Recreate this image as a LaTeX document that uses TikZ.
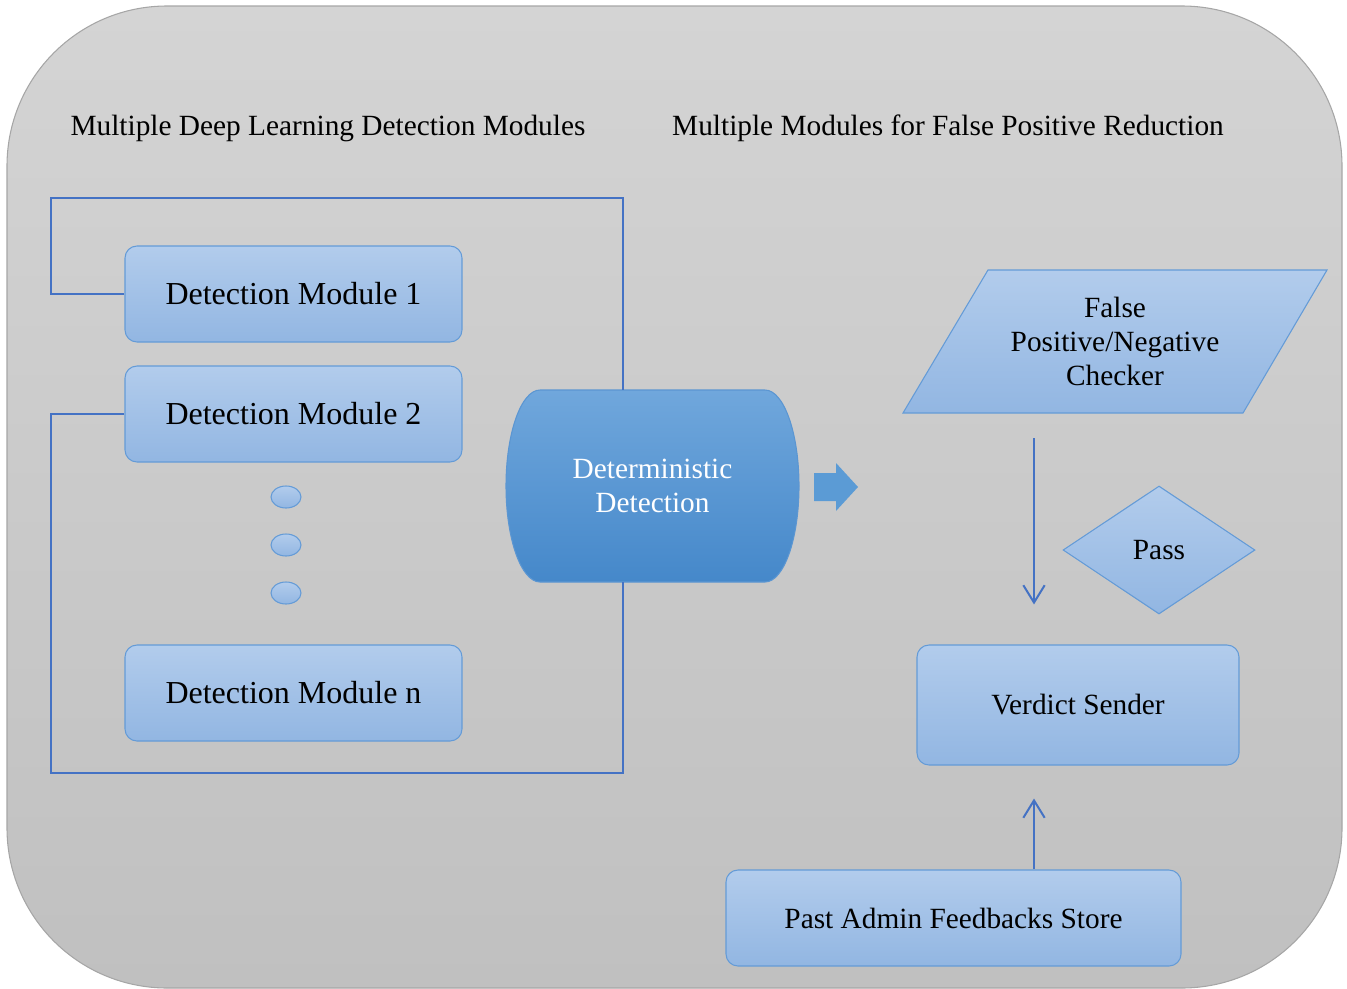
\documentclass[tikz,border=0pt]{standalone}
\usepackage{fontspec}
\setmainfont{Liberation Serif}
\usetikzlibrary{shapes.geometric,arrows.meta}
\definecolor{bgtop}{HTML}{D4D4D4}
\definecolor{bgbot}{HTML}{C0C0C0}
\definecolor{bgline}{HTML}{A6A6A6}
\definecolor{boxtop}{HTML}{B2CCEC}
\definecolor{boxbot}{HTML}{92B6E2}
\definecolor{boxline}{HTML}{649BD7}
\definecolor{cyltop}{HTML}{70A7DC}
\definecolor{cylbot}{HTML}{4588CA}
\definecolor{cylline}{HTML}{5B96D2}
\definecolor{linkblue}{HTML}{4472C4}
\definecolor{blockarrow}{HTML}{5B9BD5}
\tikzset{
  txt/.style={font=\fontsize{22}{25.5}\selectfont, align=center, inner sep=0pt},
  box/.style={txt, draw=boxline, line width=0.8pt, rounded corners=9pt, top color=boxtop, bottom color=boxbot},
  modbox/.style={box, minimum width=252.75pt, minimum height=72pt, font=\fontsize{24}{27}\selectfont},
  shapefill/.style={draw=boxline, line width=0.8pt, top color=boxtop, bottom color=boxbot},
  link/.style={draw=linkblue, line width=1.5pt},
  arr/.style={link, -{Straight Barb[length=13pt,width=16pt]}},
  dot/.style={ellipse, draw=boxline, line width=0.8pt, top color=boxtop, bottom color=boxbot, minimum width=22.5pt, minimum height=16.5pt, inner sep=0pt}
}
\begin{document}
\begin{tikzpicture}[x=0.75pt,y=-0.75pt]
\useasboundingbox (0,0) rectangle (1347,989);
% background panel
\path[draw=bgline, line width=0.8pt, top color=bgtop, bottom color=bgbot, rounded corners=120pt] (7,6) rectangle (1342,988);

% titles
\node[txt] (t1) at (328,128) {Multiple Deep Learning Detection Modules};
\node[txt] (t2) at (948,128) {Multiple Modules for False Positive Reduction};

% detection modules
\node[modbox] (m1) at (293.5,294) {Detection Module 1};
\node[modbox] (m2) at (293.5,414) {Detection Module 2};
\node[modbox] (mn) at (293.5,693) {Detection Module n};
\node[dot] (e1) at (286,497) {};
\node[dot] (e2) at (286,545) {};
\node[dot] (e3) at (286,593) {};

% deterministic detection (drum shape)
\path[draw=cylline, line width=0.8pt, top color=cyltop, bottom color=cylbot]
  (540,390) -- (765,390)
  .. controls (783.8,390) and (799,433) .. (799,486)
  .. controls (799,539) and (783.8,582) .. (765,582)
  -- (540,582)
  .. controls (521.2,582) and (506,539) .. (506,486)
  .. controls (506,433) and (521.2,390) .. (540,390) -- cycle;
\node[txt, text=white, minimum width=219.75pt, minimum height=144pt] (dd) at (652.5,486) {Deterministic\\Detection};

% bracket connectors
\coordinate (lx) at (51,0);
\coordinate (cx) at (623,0);
\draw[link] (m1.west) -| (lx |- 0,198) -| (cx |- dd.north);
\draw[link] (m2.west) -| (lx |- 0,773) -| (cx |- dd.south);

% block arrow
\fill[blockarrow] (814,473) -- (836,473) -- (836,463) -- (858,487) -- (836,511) -- (836,501) -- (814,501) -- cycle;

% false positive/negative checker
\path[shapefill] (988,270) -- (1327,270) -- (1243,413) -- (903,413) -- cycle;
\node[txt, minimum height=107.25pt] (fp) at (1115,341.5) {False\\Positive/Negative\\Checker};

% pass diamond
\node[diamond, shapefill, txt, minimum width=144pt, minimum height=96pt] (ps) at (1159,550) {Pass};

% verdict sender
\node[box, minimum width=241.5pt, minimum height=90pt] (vs) at (1078,705) {Verdict Sender};

% past admin feedbacks store
\node[box, minimum width=341.25pt, minimum height=72pt] (pa) at (953.5,918) {Past Admin Feedbacks Store};

% arrows
\coordinate (ax) at (1034,0);
\draw[arr, shorten <=18.75pt, shorten >=30pt] (ax |- fp.south) -- (ax |- vs.north);
\draw[arr, shorten >=24.75pt] (ax |- pa.north) -- (ax |- vs.south);
\end{tikzpicture}
\end{document}
